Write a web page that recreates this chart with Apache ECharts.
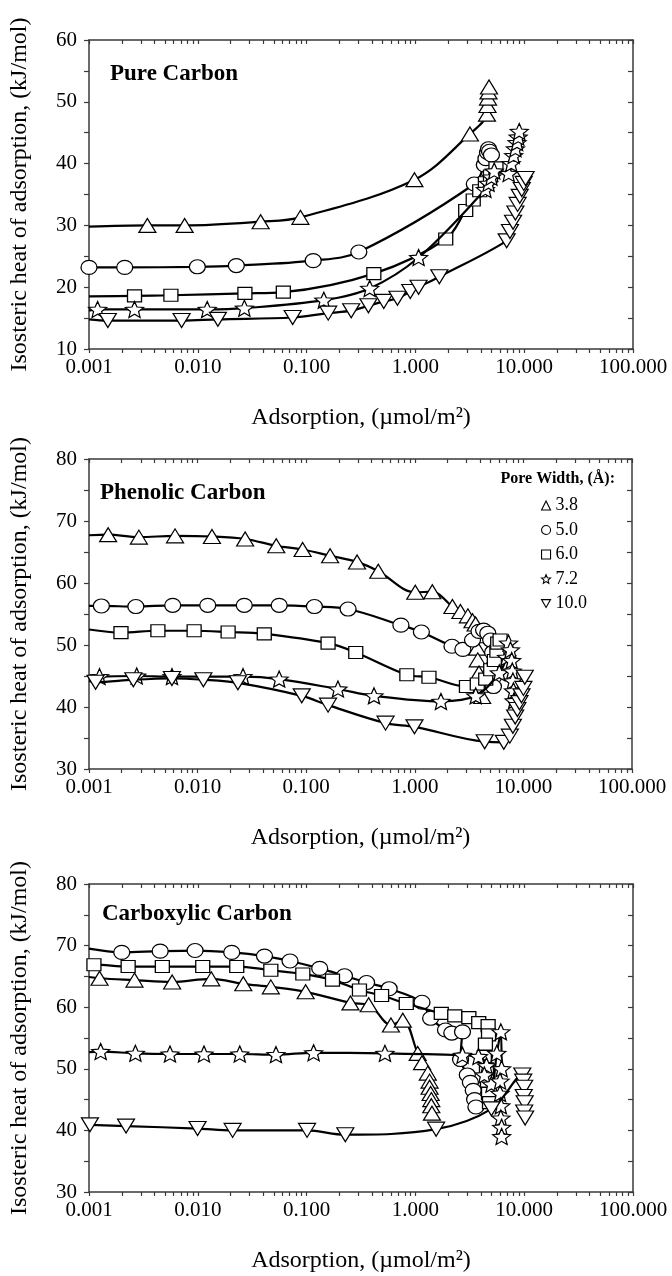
<!DOCTYPE html>
<html>
<head>
<meta charset="utf-8">
<script src="https://cdn.jsdelivr.net/npm/echarts@6/dist/echarts.min.js"></script>
<style>
  html, body { margin: 0; padding: 0; background: #fff; }
  #chart { width: 672px; height: 1276px; }
</style>
</head>
<body>
<div id="chart"></div>
<script>
// Isosteric heat of adsorption vs. adsorption for three carbon surfaces,
// one curve per pore width.

const poreWidths = ['3.8', '5.0', '6.0', '7.2', '10.0'];
const panelNames = ['Pure Carbon', 'Phenolic Carbon', 'Carboxylic Carbon'];
const xTicks = [0.001, 0.01, 0.1, 1, 10, 100];
const xMinorTicks = [];
for (let d = -3; d < 2; d++) {
  for (let m = 2; m <= 9; m++) xMinorTicks.push(m * Math.pow(10, d));
}
const yRanges = [[10, 60], [30, 80], [30, 80]];

// Heat value where each fitted curve meets the left axis (null = first point is there already)
const pureStart = [29.8, null, 18.5, 16.2, 14.8];
const phenolicStart = [67.7, 56.3, 52.5, 44.6, 44.2];
const carboxylicStart = [64.9, 69.5, 66.9, 52.7, null];

// ---- Pure Carbon: [adsorption (µmol/m²), heat (kJ/mol)]
const pure38 = [[0.00344,30.0],[0.00757,30.0],[0.0378,30.6],[0.0877,31.3],[0.98,37.4],[3.17,44.8],[4.55,48.0],[4.6,49.4],[4.65,50.6],[4.7,51.6],[4.75,52.4]];
const pure50 = [[0.001,23.2],[0.00213,23.2],[0.0099,23.3],[0.0226,23.5],[0.115,24.3],[0.302,25.7],[3.48,36.7],[4.3,39.8],[4.45,40.8],[4.6,41.8],[4.7,42.4],[4.8,42.0],[5.0,41.4]];
const pure60 = [[0.00262,18.6],[0.00566,18.7],[0.0271,19.0],[0.0611,19.2],[0.415,22.2],[1.90,27.8],[2.9,32.4],[3.4,34.1],[3.9,35.6],[4.4,36.9],[4.9,38.0],[5.5,39.3]];
const pure72 = [[0.0012,16.4],[0.00262,16.4],[0.0122,16.4],[0.0268,16.6],[0.144,17.9],[0.38,19.8],[1.07,24.8],[4.4,35.8],[4.7,36.8],[5.0,37.8],[5.3,38.8],[7.2,38.4],[7.6,40.0],[8.0,41.3],[8.3,42.4],[8.6,43.4],[8.8,44.3],[9.0,45.2]];
const pure100 = [[0.00149,14.6],[0.0071,14.6],[0.0153,14.8],[0.0745,15.1],[0.158,15.8],[0.257,16.2],[0.37,17.0],[0.512,17.7],[0.684,18.2],[0.897,19.3],[1.07,20.0],[1.66,21.7],[6.9,27.5],[7.4,29.0],[7.9,30.5],[8.3,32.0],[8.7,33.4],[9.1,34.7],[9.5,35.8],[9.9,36.8],[10.3,37.6]];

// ---- Phenolic Carbon
const phen38 = [[0.0015,67.8],[0.00288,67.4],[0.0062,67.6],[0.01356,67.5],[0.0274,67.1],[0.053,66.0],[0.0927,65.4],[0.166,64.4],[0.294,63.4],[0.461,61.9],[1.01,58.5],[1.45,58.6],[2.22,56.2],[2.63,55.4],[3.08,54.7],[3.4,53.9],[3.63,53.4],[3.7,51.5],[3.75,49.5],[3.8,47.6],[3.9,45.5],[4.05,43.5],[4.17,41.7]];
const phen50 = [[0.0013,56.3],[0.0027,56.2],[0.0059,56.4],[0.0124,56.4],[0.0269,56.4],[0.0564,56.4],[0.119,56.2],[0.243,55.8],[0.745,53.2],[1.15,52.1],[2.2,49.8],[2.77,49.3],[3.4,50.8],[3.9,52.2],[4.3,52.4],[4.7,51.9],[5.0,50.8],[5.2,48.8],[5.3,46.5],[5.3,44.8],[5.3,43.3]];
const phen60 = [[0.00197,52.0],[0.00431,52.3],[0.00929,52.3],[0.0191,52.1],[0.0411,51.8],[0.159,50.3],[0.286,48.8],[0.845,45.2],[1.35,44.8],[2.99,43.3],[3.76,43.7],[4.5,44.5],[5.0,46.0],[5.4,47.5],[5.7,49.0],[5.8,50.3],[6.1,50.8]];
const phen72 = [[0.00125,44.9],[0.00275,45.0],[0.00581,44.9],[0.0262,44.9],[0.0564,44.5],[0.196,42.9],[0.421,41.8],[1.74,40.9],[3.64,41.8],[6.0,45.5],[7.0,48.0],[7.3,50.3],[7.6,49.2],[7.8,47.5],[7.9,45.8],[8.0,44.2],[8.1,42.6],[8.2,41.0]];
const phen100 = [[0.00115,44.0],[0.00256,44.4],[0.0058,44.6],[0.0113,44.4],[0.0235,43.9],[0.091,41.8],[0.159,40.3],[0.538,37.4],[0.993,36.8],[4.4,34.4],[6.6,34.3],[7.5,35.3],[8.0,36.9],[8.4,38.4],[8.8,39.6],[9.2,40.7],[9.6,41.8],[10.0,43.0],[10.3,44.8]];

// ---- Carboxylic Carbon
const carb38 = [[0.00125,64.7],[0.00262,64.4],[0.00581,64.1],[0.0133,64.6],[0.0262,63.8],[0.0469,63.3],[0.098,62.5],[0.253,60.7],[0.372,60.4],[0.596,57.1],[0.766,57.9],[1.05,52.5],[1.15,51.0],[1.3,49.3],[1.35,48.0],[1.35,47.0],[1.38,46.0],[1.4,45.0],[1.4,44.0],[1.42,42.8]];
const carb50 = [[0.002,68.9],[0.00451,69.1],[0.00944,69.2],[0.0205,68.9],[0.041,68.3],[0.0704,67.5],[0.132,66.3],[0.223,65.1],[0.356,64.0],[0.574,63.0],[1.15,60.8],[1.38,58.2],[1.89,56.3],[2.16,55.8],[2.71,56.0],[2.6,51.5],[3.0,49.0],[3.2,47.8],[3.4,46.5],[3.5,45.0],[3.6,43.8]];
const carb60 = [[0.00111,66.9],[0.00229,66.6],[0.00472,66.6],[0.0111,66.6],[0.0228,66.6],[0.0469,66.0],[0.0923,65.4],[0.173,64.4],[0.306,62.8],[0.489,61.9],[0.824,60.6],[1.73,59.0],[2.3,58.6],[3.1,58.3],[3.82,57.5],[4.66,57.0],[4.7,55.5],[4.4,54.0],[4.3,52.0],[4.5,50.0],[4.6,48.0],[4.7,46.0],[4.8,44.5]];
const carb72 = [[0.00128,52.8],[0.00267,52.5],[0.00555,52.4],[0.0114,52.4],[0.0243,52.4],[0.0523,52.3],[0.116,52.6],[0.525,52.5],[2.71,52.2],[3.8,52.0],[4.5,50.5],[4.3,49.0],[5.0,47.5],[5.6,52.5],[6.1,56.0],[6.2,50.0],[6.0,48.0],[6.0,46.0],[6.1,44.0],[6.1,42.0],[6.2,40.5],[6.2,39.0]];
const carb100 = [[0.00102,40.9],[0.00219,40.7],[0.00995,40.3],[0.0209,40.0],[0.101,40.0],[0.227,39.3],[1.55,40.2],[5.0,43.5],[9.6,49.0],[9.8,48.0],[10.0,47.0],[9.9,45.5],[10.1,44.5],[10.0,43.0],[10.2,42.0]];

const panels = [
  { start: pureStart, sets: [pure38, pure50, pure60, pure72, pure100] },
  { start: phenolicStart, sets: [phen38, phen50, phen60, phen72, phen100] },
  { start: carboxylicStart, sets: [carb38, carb50, carb60, carb72, carb100] }
];

const STAR = 'path://M50,0L63.2,31.8L97.55,34.55L71.4,57L79.39,90.45L50,72.5L20.61,90.45L28.6,57L2.45,34.55L36.8,31.8Z';
const TRI_DOWN = 'path://M0,0L100,0L50,87Z';
const symbols = [
  { symbol: 'triangle', size: [17, 14] },
  { symbol: 'circle', size: [16, 14] },
  { symbol: 'rect', size: [14, 12] },
  { symbol: STAR, size: [18, 16] },
  { symbol: TRI_DOWN, size: [17, 14] }
];

const FONT = '"Liberation Serif", "Times New Roman", serif';
const AXIS_COLOR = '#3a3a3a';

const grids = [
  { left: 89, top: 40, width: 544, height: 309 },
  { left: 87, top: 459, width: 545, height: 310 },
  { left: 87, top: 884, width: 546, height: 308 }
];

const xAxes = [];
const yAxes = [];
const series = [];

grids.forEach((g, gi) => {
  const lineStyle = { color: AXIS_COLOR, width: 1.5 };
  // bottom axis with labels and title
  xAxes.push({
    type: 'log', logBase: 10, gridIndex: gi, position: 'bottom',
    min: 0.001, max: 100,
    axisLine: { show: true, lineStyle },
    axisTick: { show: true, inside: false, length: 4, lineStyle: { color: AXIS_COLOR, width: 1.2 },
                customValues: xTicks.concat(xMinorTicks) },
    axisLabel: { show: true, customValues: xTicks, margin: 8, color: '#000', fontFamily: FONT, fontSize: 21,
                 formatter: v => Number(v).toFixed(3) },
    splitLine: { show: false },
    name: 'Adsorption, (\u00b5mol/m\u00b2)', nameLocation: 'middle', nameGap: 57,
    nameTextStyle: { color: '#000', fontFamily: FONT, fontSize: 24 }
  });
  // top frame edge
  xAxes.push({
    type: 'log', logBase: 10, gridIndex: gi, position: 'top',
    min: 0.001, max: 100,
    axisLine: { show: true, lineStyle },
    axisTick: { show: true, inside: true, length: 4, lineStyle: { color: AXIS_COLOR, width: 1.2 },
                customValues: xTicks.concat(xMinorTicks) },
    axisLabel: { show: false },
    splitLine: { show: false }
  });
  const [ymin, ymax] = yRanges[gi];
  yAxes.push({
    type: 'value', gridIndex: gi, position: 'left', min: ymin, max: ymax, interval: 5,
    axisLine: { show: true, lineStyle },
    axisTick: { show: true, inside: false, length: 5, lineStyle: { color: AXIS_COLOR, width: 1.2 } },
    axisLabel: { show: true, margin: 12, color: '#000', fontFamily: FONT, fontSize: 21,
                 formatter: v => (v % 10 === 0 ? String(v) : '') },
    splitLine: { show: false },
    name: 'Isosteric heat of adsorption, (kJ/mol)', nameLocation: 'middle', nameGap: 57, nameRotate: 90,
    nameTextStyle: { color: '#000', fontFamily: FONT, fontSize: 24 }
  });
  yAxes.push({
    type: 'value', gridIndex: gi, position: 'right', min: ymin, max: ymax, interval: 5,
    axisLine: { show: true, lineStyle },
    axisTick: { show: true, inside: true, length: 5, lineStyle: { color: AXIS_COLOR, width: 1.2 } },
    axisLabel: { show: false },
    splitLine: { show: false }
  });

  const panel = panels[gi];
  panel.sets.forEach((pts, si) => {
    const sym = symbols[si];
    const data = [];
    if (panel.start[si] !== null) {
      data.push({ value: [0.001, panel.start[si]], symbol: 'none' });
    }
    pts.forEach(p => data.push({ value: p }));
    series.push({
      type: 'line', name: poreWidths[si],
      xAxisIndex: gi * 2, yAxisIndex: gi * 2,
      data,
      smooth: 0.35,
      clip: false,
      symbol: sym.symbol, symbolSize: sym.size,
      showAllSymbol: true,
      lineStyle: { color: '#000', width: 2.2 },
      itemStyle: { color: '#fff', borderColor: '#000', borderWidth: 1.2 },
      emphasis: { disabled: true },
      silent: true,
      z: 2 + si
    });
  });
});

const option = {
  backgroundColor: '#fff',
  animation: false,
  title: [
    { text: panelNames[0], left: 105, top: 58, textStyle: { fontFamily: FONT, fontSize: 23, fontWeight: 'bold', color: '#000' } },
    { text: panelNames[1], left: 95, top: 477, textStyle: { fontFamily: FONT, fontSize: 23, fontWeight: 'bold', color: '#000' } },
    { text: panelNames[2], left: 97, top: 898, textStyle: { fontFamily: FONT, fontSize: 23, fontWeight: 'bold', color: '#000' } },
    { text: 'Pore Width, (\u00c5):', right: 52, top: 466, textStyle: { fontFamily: FONT, fontSize: 16, fontWeight: 'bold', color: '#000' } }
  ],
  legend: {
    orient: 'vertical', left: 536, top: 491,
    itemWidth: 9, itemHeight: 9, itemGap: 5.5,
    selectedMode: false,
    textStyle: { fontFamily: FONT, fontSize: 18, color: '#000', lineHeight: 19 },
    itemStyle: { color: '#fff', borderColor: '#000', borderWidth: 1.1 },
    data: [
      { name: '3.8', icon: 'triangle' },
      { name: '5.0', icon: 'circle' },
      { name: '6.0', icon: 'rect' },
      { name: '7.2', icon: STAR },
      { name: '10.0', icon: TRI_DOWN }
    ]
  },
  grid: grids,
  xAxis: xAxes,
  yAxis: yAxes,
  series
};

const chart = echarts.init(document.getElementById('chart'), null, { renderer: 'canvas' });
chart.setOption(option);
</script>
</body>
</html>
